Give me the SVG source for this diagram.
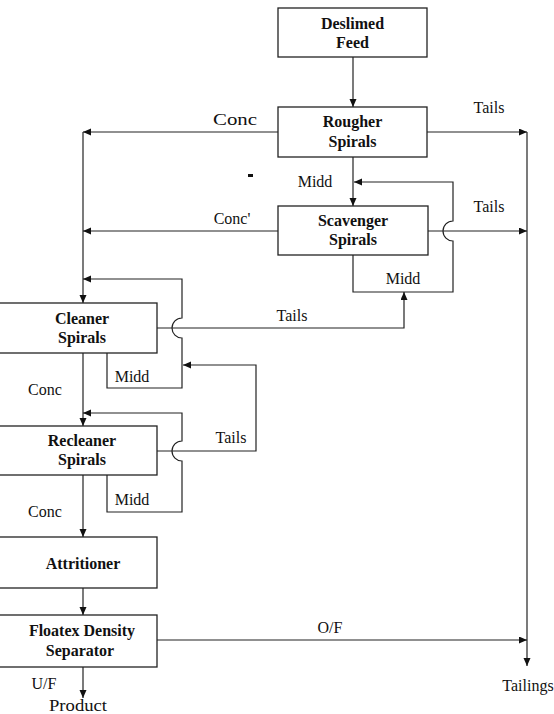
<svg xmlns="http://www.w3.org/2000/svg" width="554" height="714" viewBox="0 0 554 714">
<style>
  .box { fill: #fff; stroke: #222; stroke-width: 1.3; }
  .nt { font-family: "Liberation Serif", "Times New Roman", serif; font-weight: bold; font-size: 16px; fill: #111; text-anchor: middle; }
  .lb { font-family: "Liberation Serif", "Times New Roman", serif; font-size: 16px; fill: #111; text-anchor: middle; }
  .ln { fill: none; stroke: #222; stroke-width: 1.2; }
  .ar { marker-end: url(#ah); }
</style>
<defs>
  <marker id="ah" markerWidth="9" markerHeight="8" refX="8" refY="3.5" orient="auto" markerUnits="userSpaceOnUse">
    <path d="M0,0 L8,3.5 L0,7 z" fill="#111"/>
  </marker>
</defs>
<rect width="554" height="714" fill="#fff"/>

<g id="connectors">
  <line class="ln ar" x1="353" y1="57" x2="353" y2="107"/>
  <line class="ln ar" x1="427" y1="132" x2="527" y2="132"/>
  <line class="ln ar" x1="527" y1="132" x2="527" y2="666"/>
  <line class="ln ar" x1="278" y1="132" x2="83" y2="132"/>
  <line class="ln ar" x1="83" y1="132" x2="83" y2="303"/>
  <line class="ln ar" x1="353" y1="157" x2="353" y2="206"/>
  <path class="ln ar" d="M353,255 V292 H453 V241 A10,10 0 0 1 453,221 V182 H354"/>
  <line class="ln ar" x1="428" y1="231" x2="527" y2="231"/>
  <line class="ln ar" x1="278" y1="231" x2="83" y2="231"/>
  <path class="ln ar" d="M157,328 H404 V292"/>
  <path class="ln ar" d="M107,353 V388 H182 V338 A10,10 0 0 1 182,318 V279 H83"/>
  <line class="ln ar" x1="83" y1="353" x2="83" y2="426"/>
  <path class="ln ar" d="M107,475 V512 H182 V461 A10,10 0 0 1 182,441 V413 H83"/>
  <path class="ln ar" d="M157,451 H256 V365 H183"/>
  <line class="ln ar" x1="83" y1="475" x2="83" y2="537"/>
  <line class="ln ar" x1="83" y1="588" x2="83" y2="615"/>
  <line class="ln ar" x1="157" y1="640" x2="527" y2="640"/>
  <line class="ln ar" x1="83" y1="667" x2="83" y2="698"/>
  <rect x="248" y="174" width="5" height="3" fill="#111"/>
</g>

<g id="labels">
  <text class="lb" x="235" y="125" textLength="44" lengthAdjust="spacingAndGlyphs">Conc</text>
  <text class="lb" x="489" y="113">Tails</text>
  <text class="lb" x="315" y="187">Midd</text>
  <text class="lb" x="232" y="224">Conc'</text>
  <text class="lb" x="489" y="212">Tails</text>
  <text class="lb" x="403" y="284">Midd</text>
  <text class="lb" x="292" y="321">Tails</text>
  <text class="lb" x="132" y="382">Midd</text>
  <text class="lb" x="45" y="395">Conc</text>
  <text class="lb" x="231" y="443">Tails</text>
  <text class="lb" x="132" y="505">Midd</text>
  <text class="lb" x="45" y="517">Conc</text>
  <text class="lb" x="330" y="633">O/F</text>
  <text class="lb" x="44" y="689">U/F</text>
  <text class="lb" x="78" y="711" textLength="58" lengthAdjust="spacingAndGlyphs">Product</text>
  <text class="lb" x="528" y="691">Tailings</text>
</g>

<g id="feed">
  <rect class="box" x="278" y="8" width="149" height="49"/>
  <text class="nt" x="352.5" y="29">Deslimed</text>
  <text class="nt" x="352.5" y="48">Feed</text>
</g>
<g id="rougher">
  <rect class="box" x="278" y="107" width="149" height="50"/>
  <text class="nt" x="352.5" y="127">Rougher</text>
  <text class="nt" x="352.5" y="147">Spirals</text>
</g>
<g id="scavenger">
  <rect class="box" x="278" y="206" width="150" height="49"/>
  <text class="nt" x="353" y="226">Scavenger</text>
  <text class="nt" x="353" y="245">Spirals</text>
</g>
<g id="cleaner">
  <rect class="box" x="-2" y="303" width="159" height="50"/>
  <text class="nt" x="82" y="324">Cleaner</text>
  <text class="nt" x="82" y="343">Spirals</text>
</g>
<g id="recleaner">
  <rect class="box" x="-2" y="426" width="159" height="49"/>
  <text class="nt" x="82" y="446">Recleaner</text>
  <text class="nt" x="82" y="465">Spirals</text>
</g>
<g id="attritioner">
  <rect class="box" x="-2" y="537" width="159" height="51"/>
  <text class="nt" x="83" y="569">Attritioner</text>
</g>
<g id="floatex">
  <rect class="box" x="-2" y="615" width="159" height="52"/>
  <text class="nt" x="82" y="636">Floatex Density</text>
  <text class="nt" x="80" y="656">Separator</text>
</g>
</svg>
